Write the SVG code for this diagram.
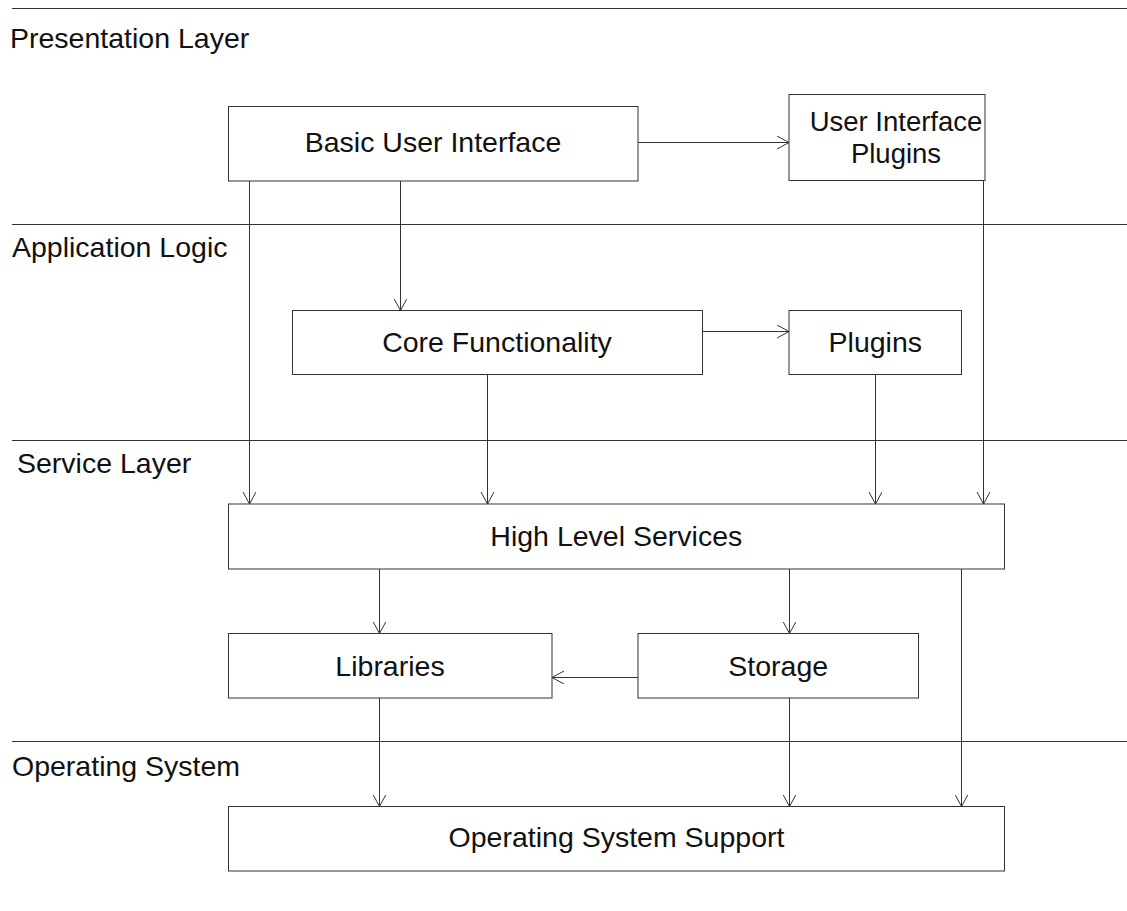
<svg xmlns="http://www.w3.org/2000/svg" width="1127" height="911" viewBox="0 0 1127 911">
<style>
  .layer { stroke: #333; stroke-width: 1; fill: none; }
  .box { fill: #fff; stroke: #333; stroke-width: 1; }
  .lbl { font-family: "Liberation Sans", Arial, Helvetica, sans-serif; font-size: 28.5px; fill: #111; }
  .sm { font-size: 27.5px; }
  .ctr { text-anchor: middle; }
  .edge { stroke: #333; stroke-width: 1; fill: none; marker-end: url(#arr); }
</style>
<defs>
  <marker id="arr" markerUnits="userSpaceOnUse" markerWidth="14" markerHeight="15" refX="12" refY="6.5" orient="auto">
    <path d="M0,0 L12,6.5 L0,13" fill="none" stroke="#333" stroke-width="1"/>
  </marker>
</defs>
<rect width="1127" height="911" fill="#fff"/>
<g id="layers">
  <line class="layer" x1="12" y1="8.5" x2="1127" y2="8.5"/>
  <line class="layer" x1="12" y1="224.5" x2="1127" y2="224.5"/>
  <line class="layer" x1="12" y1="440.5" x2="1127" y2="440.5"/>
  <line class="layer" x1="12" y1="741.5" x2="1127" y2="741.5"/>
  <text class="lbl" x="10" y="48">Presentation Layer</text>
  <text class="lbl" x="12" y="257">Application Logic</text>
  <text class="lbl" x="17" y="473">Service Layer</text>
  <text class="lbl" x="12" y="776">Operating System</text>
</g>
<g id="connectors">
  <line class="edge" x1="638" y1="142.5" x2="789" y2="142.5"/>
  <line class="edge" x1="249.5" y1="181" x2="249.5" y2="504"/>
  <line class="edge" x1="400.5" y1="181" x2="400.5" y2="310.5"/>
  <line class="edge" x1="983.5" y1="180.5" x2="983.5" y2="504"/>
  <line class="edge" x1="702.5" y1="331.5" x2="789" y2="331.5"/>
  <line class="edge" x1="487.5" y1="374.5" x2="487.5" y2="504"/>
  <line class="edge" x1="875.5" y1="374.5" x2="875.5" y2="504"/>
  <line class="edge" x1="379.5" y1="569" x2="379.5" y2="633.5"/>
  <line class="edge" x1="789.5" y1="569" x2="789.5" y2="633.5"/>
  <line class="edge" x1="638" y1="677.5" x2="552" y2="677.5"/>
  <line class="edge" x1="961.5" y1="569" x2="961.5" y2="806.5"/>
  <line class="edge" x1="379.5" y1="698" x2="379.5" y2="806.5"/>
  <line class="edge" x1="789.5" y1="698" x2="789.5" y2="806.5"/>
</g>
<g id="basic-ui">
  <rect class="box" x="228.5" y="106.5" width="409.5" height="74.5"/>
  <text class="lbl ctr" x="433" y="151.5">Basic User Interface</text>
</g>
<g id="ui-plugins">
  <rect class="box" x="789" y="94.5" width="196" height="86"/>
  <text class="lbl sm ctr" x="896" y="131">User Interface</text>
  <text class="lbl sm ctr" x="896" y="162.5">Plugins</text>
</g>
<g id="core">
  <rect class="box" x="292.5" y="310.5" width="410" height="64"/>
  <text class="lbl ctr" x="497" y="352">Core Functionality</text>
</g>
<g id="plugins">
  <rect class="box" x="789" y="310.5" width="172.5" height="64"/>
  <text class="lbl ctr" x="875.3" y="352">Plugins</text>
</g>
<g id="hls">
  <rect class="box" x="228.5" y="504" width="776" height="65"/>
  <text class="lbl ctr" x="616.3" y="546">High Level Services</text>
</g>
<g id="libraries">
  <rect class="box" x="228.5" y="633.5" width="323.5" height="64.5"/>
  <text class="lbl ctr" x="390" y="675.5">Libraries</text>
</g>
<g id="storage">
  <rect class="box" x="638" y="633.5" width="280.5" height="64.5"/>
  <text class="lbl ctr" x="778.2" y="675.5">Storage</text>
</g>
<g id="oss">
  <rect class="box" x="228.5" y="806.5" width="776" height="64.5"/>
  <text class="lbl ctr" x="616.5" y="847">Operating System Support</text>
</g>
</svg>
